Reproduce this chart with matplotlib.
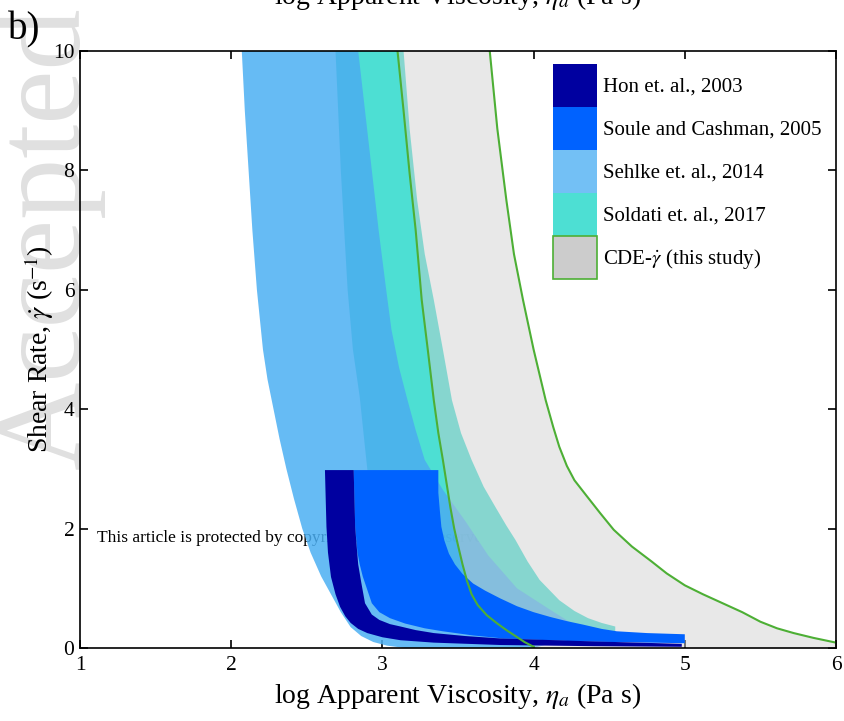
import numpy as np
import matplotlib.pyplot as plt
from matplotlib.patches import Patch

plt.rcParams['font.family'] = ['Liberation Serif', 'DejaVu Serif']
plt.rcParams['mathtext.fontset'] = 'stix'

# ---- data (log viscosity x, shear rate y) ----
# Sehlke et al. 2014, outer band
sehlke_left_x = [2.07, 2.09, 2.115, 2.14, 2.17, 2.21, 2.24, 2.28, 2.32, 2.365, 2.415, 2.47, 2.525,
                 2.595, 2.66, 2.725, 2.79, 2.86, 2.94, 3.03, 3.15, 4.00]
sehlke_left_y = [10.0, 9.0, 8.0, 7.0, 6.0, 5.0, 4.5, 4.0, 3.5, 3.0, 2.5, 2.0, 1.6,
                 1.2, 0.9, 0.6, 0.35, 0.2, 0.1, 0.04, 0.0, 0.0]
# Sehlke et al. 2014, inner (darker) band
sehlke_in_left_x = [2.69, 2.725, 2.77, 2.805, 2.85, 2.875, 2.90, 2.95, 3.02, 3.15, 3.40, 3.90, 4.40]
sehlke_in_left_y = [10.0, 8.0, 6.0, 5.0, 4.21, 3.6, 3.0, 2.0, 1.3, 0.8, 0.5, 0.3, 0.25]
sehlke_right_x = [3.05, 3.20, 3.35, 3.50, 3.70, 3.95, 4.20, 4.45]
sehlke_right_y = [10.0, 6.0, 4.0, 2.8, 2.0, 1.2, 0.7, 0.3]

# Soldati et al. 2017
soldati_left_x = [2.84, 2.885, 2.93, 2.975, 3.025, 3.06, 3.11, 3.16, 3.22, 3.28, 3.40, 3.55,
                  3.70, 3.89, 4.11, 4.26, 4.54]
soldati_left_y = [10.0, 9.0, 8.0, 7.0, 6.0, 5.33, 4.7, 4.21, 3.65, 3.15, 2.65, 2.12,
                  1.55, 1.0, 0.64, 0.40, 0.27]
soldati_right_x = [3.14, 3.18, 3.23, 3.28, 3.34, 3.40, 3.46, 3.52, 3.59, 3.67, 3.75, 3.82,
                   3.88, 3.96, 4.04, 4.17, 4.27, 4.36, 4.45, 4.54]
soldati_right_y = [10.0, 8.7, 7.5, 6.6, 5.83, 5.0, 4.15, 3.6, 3.15, 2.7, 2.35, 2.05,
                   1.81, 1.45, 1.14, 0.80, 0.62, 0.50, 0.42, 0.36]

# CDE shear rate (this study)
cde_left_x = [3.10, 3.14, 3.18, 3.22, 3.26, 3.30, 3.34, 3.37, 3.40, 3.425, 3.45, 3.475, 3.50,
              3.53, 3.56, 3.59, 3.63, 3.69, 3.76, 3.82, 3.88, 3.94, 4.00]
cde_left_y = [10.0, 9.0, 7.95, 7.0, 5.83, 5.0, 4.15, 3.6, 3.15, 2.75, 2.35, 2.0, 1.72,
              1.4, 1.12, 0.9, 0.72, 0.55, 0.41, 0.3, 0.2, 0.1, 0.02]
cde_right_x = [3.71, 3.76, 3.82, 3.87, 3.93, 4.00, 4.08, 4.13, 4.17, 4.22, 4.27, 4.35, 4.44,
               4.53, 4.65, 4.78, 4.88, 5.00, 5.12, 5.25, 5.38, 5.50, 5.61, 5.72, 5.85, 6.00]
cde_right_y = [10.0, 8.7, 7.5, 6.6, 5.83, 5.0, 4.15, 3.7, 3.37, 3.05, 2.81, 2.55, 2.26,
               1.98, 1.70, 1.45, 1.25, 1.05, 0.9, 0.75, 0.6, 0.44, 0.33, 0.25, 0.17, 0.09]

# Soule and Cashman 2005
soule_upper_x = [2.81, 3.37, 3.37, 3.38, 3.39, 3.41, 3.44, 3.48, 3.53, 3.60, 3.68, 3.78, 3.89,
                 4.00, 4.11, 4.22, 4.33, 4.45, 4.55, 4.75, 5.00, 5.00]
soule_upper_y = [2.98, 2.98, 2.6, 2.3, 2.03, 1.8, 1.58, 1.40, 1.24, 1.08, 0.96, 0.83, 0.70,
                 0.60, 0.52, 0.45, 0.39, 0.32, 0.28, 0.25, 0.23, 0.08]
soule_lower_x = [2.81, 2.82, 2.835, 2.85, 2.87, 2.89, 2.91, 2.93, 2.98, 3.05, 3.15, 3.28,
                 3.40, 3.60, 3.80, 4.30]
soule_lower_y = [2.98, 2.03, 1.6, 1.40, 1.2, 1.05, 0.9, 0.75, 0.6, 0.5, 0.41, 0.33,
                 0.28, 0.21, 0.16, 0.11]

# Hon et al. 2003
hon_left_x = [2.62, 2.625, 2.63, 2.64, 2.66, 2.69, 2.72, 2.755, 2.79, 2.84, 2.90, 3.00, 3.12,
              3.34, 3.78, 4.40, 4.98]
hon_left_y = [2.98, 2.5, 2.03, 1.6, 1.19, 0.9, 0.69, 0.53, 0.42, 0.32, 0.25, 0.18, 0.13,
              0.09, 0.05, 0.03, 0.02]
hon_right_x = [2.81, 2.82, 2.83, 2.84, 2.86, 2.885, 2.93, 2.98, 3.05, 3.12, 3.22, 3.34, 3.55,
               3.78, 4.40, 4.98]
hon_right_y = [2.98, 2.03, 1.7, 1.40, 1.10, 0.75, 0.56, 0.47, 0.40, 0.36, 0.30, 0.25, 0.20,
               0.16, 0.11, 0.07]

labels = ["Hon et. al., 2003", "Soule and Cashman, 2005", "Sehlke et. al., 2014",
          "Soldati et. al., 2017", "CDE-$\\dot{\\gamma}$ (this study)"]
legend_colors = ["#0000a0", "#0062ff", "#73c0f5", "#4ddfd3", "#cccccc"]
green = "#4daf35"


def band(x1, y1, x2, y2):
    return np.r_[x1, x2[::-1]], np.r_[y1, y2[::-1]]


fig = plt.figure(figsize=(8.44, 7.21), dpi=100)
ax = fig.add_axes([80 / 844, 1 - 648 / 721, 756 / 844, 597 / 721])
ax.set_facecolor('none')

# watermark and notice
fig.text(80 / 844, 1 - 470 / 721, "Accepted Article", rotation=90, rotation_mode='anchor',
         ha='left', va='baseline', fontsize=88, color='#e0e0e0', zorder=-1)
ax.text(17 / 756, 106 / 597, "This article is protected by copyright. All rights reserved.",
        transform=ax.transAxes, fontsize=12.5, va='baseline', zorder=1)

ax.fill(*band(sehlke_left_x, sehlke_left_y, sehlke_right_x, sehlke_right_y),
        color='#4bafF3', alpha=0.85, lw=0, zorder=2)
ax.fill(*band(sehlke_in_left_x, sehlke_in_left_y, sehlke_right_x, sehlke_right_y),
        color='#47b3ea', alpha=0.85, lw=0, zorder=3)
ax.fill(*band(soldati_left_x, soldati_left_y, soldati_right_x, soldati_right_y),
        color='#4ddfd3', lw=0, zorder=4)
ax.fill(*band(cde_left_x + [6.0], cde_left_y + [0.0], cde_right_x, cde_right_y),
        color='#cccccc', alpha=0.45, lw=0, zorder=5)
ax.fill(*band(soule_upper_x, soule_upper_y, soule_lower_x, soule_lower_y),
        color='#0062ff', lw=0, zorder=6)
ax.fill(*band(hon_left_x, hon_left_y, hon_right_x, hon_right_y),
        color='#0000a0', lw=0, zorder=7)
ax.plot(cde_left_x, cde_left_y, color=green, lw=1.5, zorder=8)
ax.plot(cde_right_x, cde_right_y, color=green, lw=1.5, zorder=8)

ax.set_xlim(1, 6)
ax.set_ylim(0, 10)
ax.set_xticks([1, 2, 3, 4, 5, 6])
ax.set_yticks([0, 2, 4, 6, 8, 10])
ax.tick_params(direction='in', length=6, width=1.2, top=True, right=True, labelsize=15.5, pad=6)
ax.tick_params(axis='y', pad=4)
for s in ax.spines.values():
    s.set_linewidth(1.2)
    s.set_zorder(9)
ax.set_xlabel("log Apparent Viscosity, $\\eta_a$ (Pa s)", fontsize=20, labelpad=4)
ax.set_ylabel("Shear Rate, $\\dot{\\gamma}$ (s$^{-1}$)", fontsize=20, labelpad=-2)

handles = [Patch(facecolor=c, edgecolor='none') for c in legend_colors[:4]]
handles.append(Patch(facecolor=legend_colors[4], edgecolor=green, lw=1.2))
leg = ax.legend(handles, labels, loc='upper left', bbox_to_anchor=(553 / 844, 1 - 64 / 721),
                bbox_transform=fig.transFigure, frameon=False, fontsize=15,
                handlelength=2.11, handleheight=2.8, labelspacing=0, handletextpad=0.29,
                borderpad=0, borderaxespad=0)
leg.set_zorder(10)

# panel label and clipped label from panel above
fig.text(8 / 844, 1 - 39 / 721, "b)", fontsize=28, va='baseline')
fig.text(458 / 844, 1 - 4 / 721, "log Apparent Viscosity, $\\eta_a$ (Pa s)",
         ha='center', va='baseline', fontsize=20)

fig.savefig("out.png", dpi=100)
